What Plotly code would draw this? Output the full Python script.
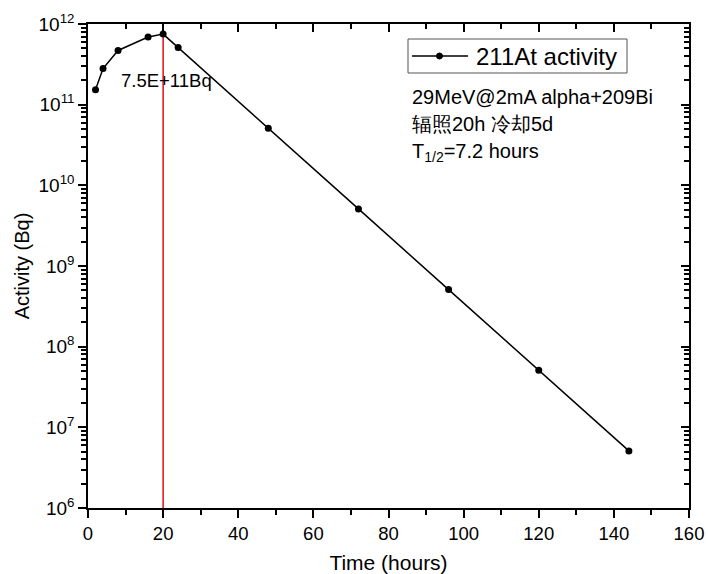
import plotly.graph_objects as go

time_h = [2, 4, 8, 16, 20, 24, 48, 72, 96, 120, 144]
activity_bq = [1.53e11, 2.8e11, 4.7e11, 6.9e11, 7.5e11, 5.1e11, 5.1e10, 5.1e9, 5.1e8, 5.1e7, 5.1e6]
series_name = "211At activity"
peak_time = 20
peak_label = "7.5E+11Bq"
info_lines = ["29MeV@2mA alpha+209Bi", "辐照20h 冷却5d", "T<sub>1/2</sub>=7.2 hours"]
x_ticks = [0, 20, 40, 60, 80, 100, 120, 140, 160]
y_decades = [6, 7, 8, 9, 10, 11, 12]

FONT = "Liberation Sans, Arial, sans-serif"
y_tickvals = [10 ** d for d in y_decades]
y_ticktext = [f"10<sup>{d}</sup>" for d in y_decades]
y_minor = [m * 10 ** d for d in y_decades[:-1] for m in range(2, 10)]
x_minor = [v + 10 for v in x_ticks[:-1]]

L, R, T, B = 88, 19, 24, 66
W, H = 708, 574
PW, PH = W - L - R, H - T - B


def px(x):
    return (x - L) / PW


def py(y):
    return (H - B - y) / PH


fig = go.Figure()
fig.add_trace(go.Scatter(
    x=[peak_time, peak_time], y=[1e6, 1e12], mode="lines",
    line=dict(color="#e01010", width=1.5), showlegend=False, hoverinfo="skip"))
fig.add_trace(go.Scatter(
    x=time_h, y=activity_bq, mode="lines+markers", name=series_name, showlegend=False,
    line=dict(color="black", width=1.5), marker=dict(color="black", size=7)))

axis_common = dict(showgrid=False, zeroline=False, linecolor="black", linewidth=1.5,
                   tickcolor="black", tickwidth=1.5, automargin=False)
fig.update_layout(
    width=W, height=H,
    margin=dict(l=L, r=R, t=T, b=B),
    paper_bgcolor="white", plot_bgcolor="white",
    font=dict(family=FONT, color="black", size=17),
    showlegend=False,
    xaxis=dict(range=[0, 160], tickvals=x_ticks, ticks="outside", ticklen=8,
               showline=True, mirror=True,
               minor=dict(tickvals=x_minor, ticks="outside", ticklen=5, tickcolor="black", tickwidth=1.5),
               title=dict(text="Time (hours)", font=dict(size=21), standoff=14),
               tickfont=dict(size=18.5), **axis_common),
    yaxis=dict(type="log", range=[6, 12], tickvals=y_tickvals, ticktext=y_ticktext,
               ticks="outside", ticklen=8, showline=True, mirror=True,
               minor=dict(tickvals=y_minor, ticks="outside", ticklen=5, tickcolor="black", tickwidth=1.5),
               title=dict(text="Activity (Bq)", font=dict(size=20), standoff=4),
               tickfont=dict(size=19), **axis_common),
    xaxis2=dict(range=[0, 160], overlaying="x", side="top", anchor="y", tickvals=x_ticks,
                ticks="inside", ticklen=8, showticklabels=False,
                minor=dict(tickvals=x_minor, ticks="inside", ticklen=5, tickcolor="black", tickwidth=1.5),
                **axis_common),
    yaxis2=dict(type="log", range=[6, 12], overlaying="y", side="right", anchor="x",
                tickvals=y_tickvals, ticks="inside", ticklen=8, showticklabels=False,
                minor=dict(tickvals=y_minor, ticks="inside", ticklen=5, tickcolor="black", tickwidth=1.5),
                **axis_common),
)
fig.add_trace(go.Scatter(x=[None], y=[None], xaxis="x2", yaxis="y2", showlegend=False, hoverinfo="skip"))

# legend box drawn manually (Origin style)
fig.add_shape(type="rect", xref="paper", yref="paper", x0=px(408), x1=px(627), y0=py(73), y1=py(39),
              line=dict(color="#555555", width=1), fillcolor="white", layer="above")
fig.add_shape(type="line", xref="paper", yref="paper", x0=px(412), x1=px(468), y0=py(56), y1=py(56),
              line=dict(color="black", width=1.5), layer="above")
fig.add_shape(type="circle", xref="paper", yref="paper", x0=px(436.5), x1=px(442.5), y0=py(59), y1=py(53),
              line=dict(color="black", width=1), fillcolor="black", layer="above")
fig.add_annotation(x=px(474), y=py(56), xref="paper", yref="paper", text=series_name, showarrow=False,
                   xanchor="left", yanchor="middle", font=dict(size=24))

fig.add_annotation(x=8.3, y=11.297, xref="x", yref="y", text=peak_label, showarrow=False,
                   xanchor="left", yanchor="middle", font=dict(size=18.5))
for i, line in enumerate(info_lines):
    fig.add_annotation(x=px(410), y=py(97 + 27.5 * i),
                       xref="paper", yref="paper", text=line,
                       showarrow=False, xanchor="left", yanchor="middle", font=dict(size=20))

fig.write_html("out.html")
